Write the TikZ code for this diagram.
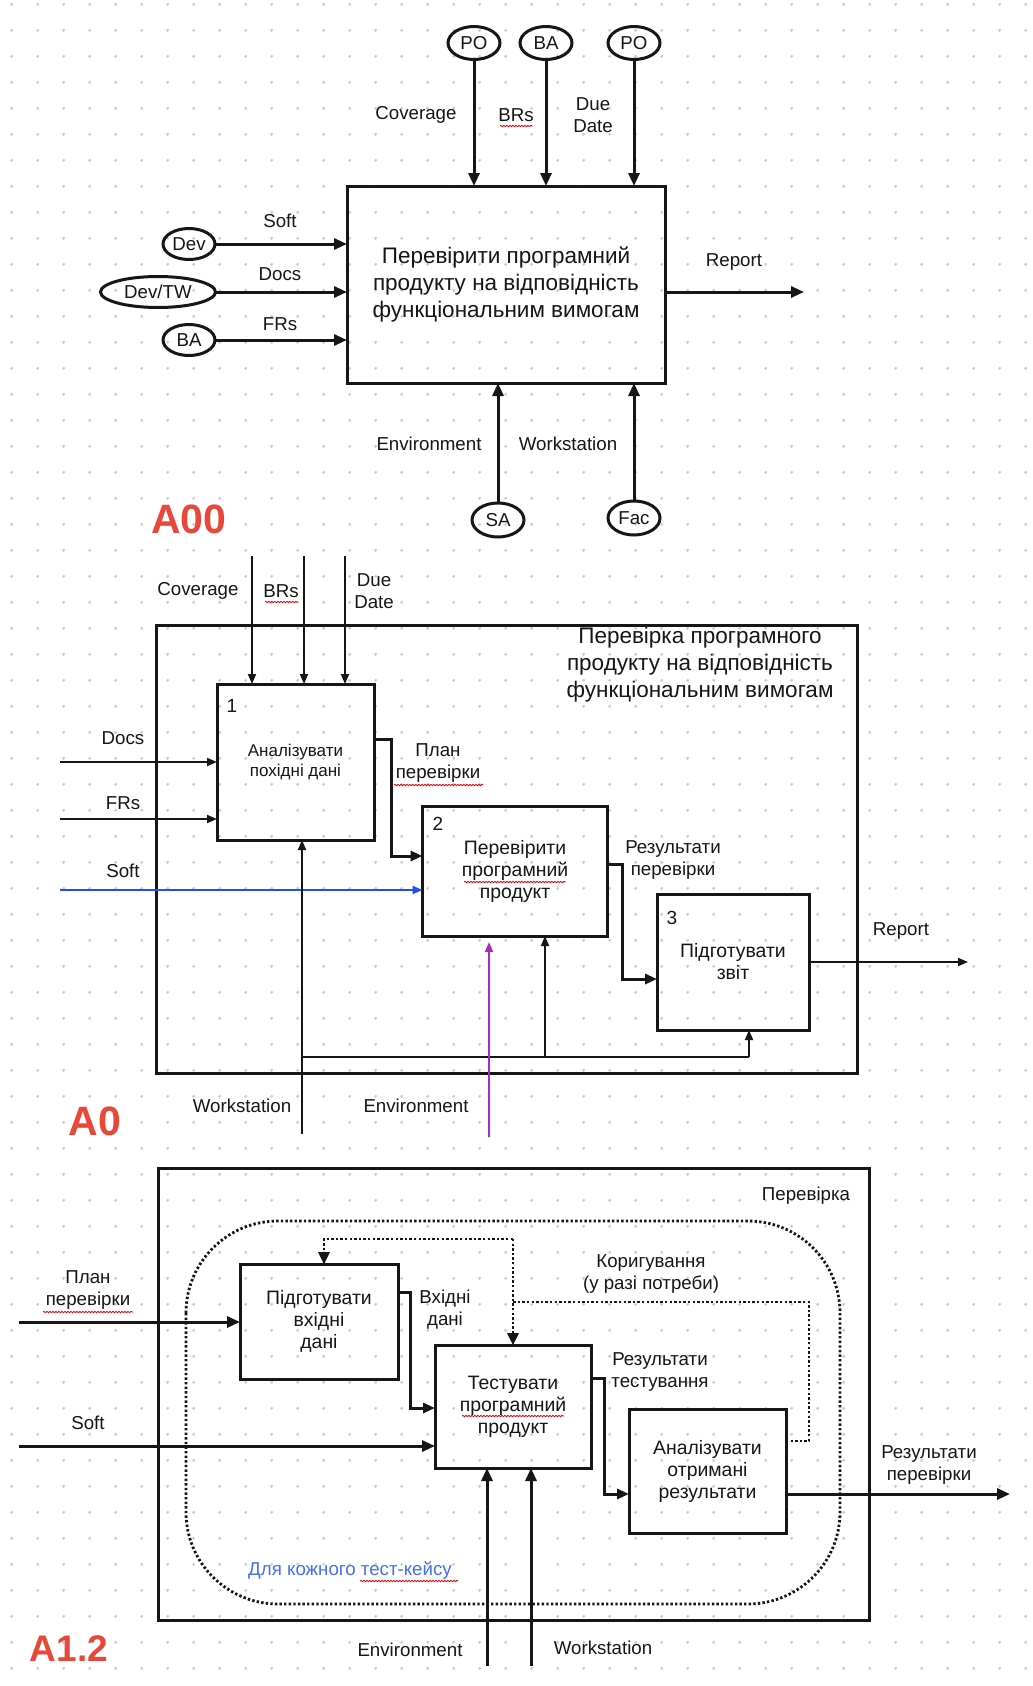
\documentclass[tikz,border=0pt]{standalone}
\usepackage{fontspec}
\setmainfont{Liberation Sans}
\usetikzlibrary{arrows.meta,shapes.geometric,calc,decorations.pathmorphing}

\definecolor{griddot}{RGB}{206,206,206}
\definecolor{tagred}{RGB}{232,72,58}
\definecolor{softblue}{RGB}{35,75,250}
\definecolor{envpurple}{RGB}{165,45,190}
\definecolor{noteblue}{RGB}{70,110,240}
\definecolor{ink}{RGB}{22,22,22}

\newcommand{\fsz}[2]{\fontsize{#1}{#2}\selectfont}

\begin{document}
\begin{tikzpicture}[x=1pt,y=-1pt,
  every node/.style={text=ink, inner sep=0pt, outer sep=0pt},
  lbl/.style={font=\fsz{18.7}{22}, align=center},
  tag/.style={font=\fsz{41}{44}\bfseries, text=tagred},
  fnbox/.style={draw=ink, line width=3, rectangle, align=center},
  frame/.style={draw=ink, line width=3, rectangle},
  actor/.style={draw=ink, line width=3, ellipse, font=\fsz{18.7}{22}, minimum height=33, minimum width=52},
  bigarr/.style={draw=ink, line width=3, -{Triangle[length=13pt,width=11pt]}},
  thinarr/.style={draw=ink, line width=1.8, -{Triangle[length=10pt,width=8pt]}},
  elbow/.style={draw=ink, line width=3, -{Triangle[length=12pt,width=10pt]}},
  dotline/.style={draw=ink, line width=2.8, dash pattern=on 2.4pt off 2.2pt},
  squig/.style={draw=red!85!black, line width=0.8, decorate, decoration={snake, amplitude=0.7pt, segment length=3pt}}
]

% page and dotted grid
\fill[white] (0,0) rectangle (1033,1686);
\useasboundingbox (0,0) rectangle (1033,1686);
\foreach \i in {0,...,39}{
  \foreach \j in {0,...,64}{
    \fill[griddot] ({11.7+26*\i},{4.3+26*\j}) circle (1.7);
  }
}

%% ---------------- A00 : context diagram ----------------
\node[fnbox, minimum width=318, minimum height=197, font=\fsz{22.5}{27}] (top) at (506,284.5)
  {Перевірити програмний\\продукту на відповідність\\функціональним вимогам};

\node[actor] (po1) at (474,43) {PO};
\node[actor] (ba1) at (546,43) {BA};
\node[actor] (po2) at (634,43) {PO};
\draw[bigarr] (po1.south) -- (po1.south |- top.north);
\draw[bigarr] (ba1.south) -- (ba1.south |- top.north);
\draw[bigarr] (po2.south) -- (po2.south |- top.north);
\node[lbl] (tcov) at (416,115) {Coverage};
\node[lbl] (tbrs) at (516,115) {BRs};
\node[lbl] (tdue) at (593,115) {Due\\Date};

\node[actor, minimum height=31] (dev) at (189,244) {Dev};
\node[actor, minimum height=31, minimum width=115] (devtw) at (158,292) {Dev/TW};
\node[actor, minimum height=31] (ba2) at (189,340) {BA};
\draw[bigarr] (dev.east) -- (dev.east -| top.west);
\draw[bigarr] (devtw.east) -- (devtw.east -| top.west);
\draw[bigarr] (ba2.east) -- (ba2.east -| top.west);
\node[lbl] (tsoft) at (280,221) {Soft};
\node[lbl] (tdocs) at (280,274) {Docs};
\node[lbl] (tfrs) at (280,324) {FRs};

\coordinate (trep) at (804,292);
\draw[bigarr] (top.east |- trep) -- (trep);
\node[lbl] (treport) at (734,262) {Report};

\node[actor, minimum height=34] (sa) at (498,520) {SA};
\node[actor, minimum height=34] (fac) at (634,518) {Fac};
\draw[bigarr] (sa.north) -- (sa.north |- top.south);
\draw[bigarr] (fac.north) -- (fac.north |- top.south);
\node[lbl] (tenv) at (429,444) {Environment};
\node[lbl] (tws) at (568,444) {Workstation};

\node[tag] (a00) at (189,519) {A00};

%% ---------------- A0 : decomposition ----------------
\node[frame, minimum width=701, minimum height=448] (a0f) at (506.5,849) {};
\node[font=\fsz{22.5}{27}, align=center] (a0title) at (700,665)
  {Перевірка програмного\\продукту на відповідність\\функціональним вимогам};

\node[fnbox, minimum width=157, minimum height=156, font=\fsz{17}{20}] (b1) at (295.5,762)
  {Аналізувати\\похідні дані};
\node[fnbox, minimum width=185, minimum height=130, font=\fsz{19.4}{22}] (b2) at (515,871)
  {Перевірити\\програмний\\продукт};
\node[fnbox, minimum width=152, minimum height=136, font=\fsz{19.4}{22}] (b3) at (733,962)
  {Підготувати\\звіт};
\node[font=\fsz{19}{22}] (n1) at (232,706) {1};
\node[font=\fsz{19}{22}] (n2) at (438,824) {2};
\node[font=\fsz{19}{22}] (n3) at (672,918) {3};

\coordinate (c1) at (252,556);
\coordinate (c2) at (304,556);
\coordinate (c3) at (345,556);
\draw[thinarr] (c1) -- (c1 |- b1.north);
\draw[thinarr] (c2) -- (c2 |- b1.north);
\draw[thinarr] (c3) -- (c3 |- b1.north);
\node[lbl] (acov) at (198,591) {Coverage};
\node[lbl] (abrs) at (281,591) {BRs};
\node[lbl] (adue) at (374,591) {Due\\Date};

\coordinate (idocs) at (60,762);
\coordinate (ifrs) at (60,819);
\coordinate (isoft) at (60,890);
\draw[thinarr] (idocs) -- (idocs -| b1.west);
\draw[thinarr] (ifrs) -- (ifrs -| b1.west);
\draw[thinarr, draw=softblue, -{Triangle[length=10pt,width=8pt,fill=softblue]}] (isoft) -- (isoft -| b2.west);
\node[lbl] (adocs) at (123,738) {Docs};
\node[lbl] (afrs) at (123,803) {FRs};
\node[lbl] (asoft) at (123,871) {Soft};

\coordinate (plA) at (391,739);
\coordinate (plB) at (391,856);
\draw[elbow] (b1.east |- plA) -- (plA) -- (plB) -- (plB -| b2.west);
\node[lbl] (aplan) at (438,763) {План\\перевірки};

\coordinate (rsA) at (622,864);
\coordinate (rsB) at (622,979);
\draw[elbow] (b2.east |- rsA) -- (rsA) -- (rsB) -- (rsB -| b3.west);
\node[lbl] (ares) at (673,860) {Результати\\перевірки};

\coordinate (arep) at (968,962);
\draw[thinarr] (b3.east |- arep) -- (arep);
\node[lbl] (areport) at (901,931) {Report};

\coordinate (ws0) at (302,1134);
\coordinate (wsL) at (302,1057);
\coordinate (wsM) at (545,1057);
\coordinate (wsR) at (749,1057);
\draw[thinarr] (ws0) -- (ws0 |- b1.south);
\draw[draw=ink, line width=1.8] (wsL) -- (wsR);
\draw[thinarr] (wsM) -- (wsM |- b2.south);
\draw[thinarr] (wsR) -- (wsR |- b3.south);
\node[lbl] (aws) at (242,1106) {Workstation};

\coordinate (env0) at (489,1137);
\coordinate (env1) at (489,942);
\draw[draw=envpurple, line width=1.8, -{Triangle[length=10pt,width=8pt,fill=envpurple]}] (env0) -- (env1);
\node[lbl] (aenv) at (416,1106) {Environment};

\node[tag] (a0) at (95,1121) {A0};

%% ---------------- A1.2 : test loop ----------------
\node[frame, minimum width=711, minimum height=452] (a12f) at (513.5,1394) {};
\node[lbl] (ttl) at (806,1196) {Перевірка};
\draw[dotline, rounded corners=92] (186,1221) rectangle (840,1604);

\node[fnbox, minimum width=158, minimum height=115, font=\fsz{19.4}{22}] (bA) at (319,1321.5)
  {Підготувати\\вхідні\\дані};
\node[fnbox, minimum width=156, minimum height=123, font=\fsz{19.4}{22}] (bB) at (513,1406.5)
  {Тестувати\\програмний\\продукт};
\node[fnbox, minimum width=157, minimum height=124, font=\fsz{19.4}{22}] (bC) at (707.5,1471)
  {Аналізувати\\отримані\\результати};

\coordinate (iplan) at (19,1322);
\coordinate (isoft2) at (19,1446);
\draw[bigarr] (iplan) -- (iplan -| bA.west);
\draw[bigarr] (isoft2) -- (isoft2 -| bB.west);
\node[lbl] (bplan) at (88,1290) {План\\перевірки};
\node[lbl] (bsoft) at (88,1423) {Soft};

\coordinate (vdA) at (410,1292);
\coordinate (vdB) at (410,1408);
\draw[elbow] (bA.east |- vdA) -- (vdA) -- (vdB) -- (vdB -| bB.west);
\node[lbl] (bvd) at (445,1310) {Вхідні\\дані};

\coordinate (rtA) at (604,1378);
\coordinate (rtB) at (604,1494);
\draw[elbow] (bB.east |- rtA) -- (rtA) -- (rtB) -- (rtB -| bC.west);
\node[lbl] (brt) at (660,1372) {Результати\\тестування};

\coordinate (rvo) at (1010,1494);
\draw[bigarr] (bC.east |- rvo) -- (rvo);
\node[lbl] (brv) at (929,1465) {Результати\\перевірки};

\coordinate (env2) at (487,1666);
\coordinate (ws2) at (531,1666);
\draw[bigarr] (env2) -- (env2 |- bB.south);
\draw[bigarr] (ws2) -- (ws2 |- bB.south);
\node[lbl] (benv) at (410,1650) {Environment};
\node[lbl] (bws) at (603,1648) {Workstation};

% correction feedback loop (dotted)
\coordinate (fbA) at (809,1441);
\coordinate (fbB) at (809,1302);
\coordinate (fbC) at (513,1302);
\coordinate (fbT) at (513,1239);
\coordinate (fbL) at (324,1239);
\draw[dotline] (bC.east |- fbA) -- (fbA) -- (fbB) -- (fbC);
\draw[dotline] (fbT) -- (fbT |- bB.north);
\draw[dotline] (fbT) -- (fbL) -- (fbL |- bA.north);
\fill[ink] (bB.north -| fbT) -- ++(-6,-12) -- ++(12,0) -- cycle;
\fill[ink] (bA.north -| fbL) -- ++(-6,-12) -- ++(12,0) -- cycle;
\node[lbl] (bcor) at (651,1274) {Коригування\\(у разі потреби)};

\node[lbl, text=noteblue] (bnote) at (350,1570) {Для кожного тест-кейсу};

\node[tag, font=\fsz{37}{40}\bfseries] (a12) at (69,1649) {A1.2};

% spell-checker underlines
\draw[squig] (500,126) -- (533,126);
\draw[squig] (265,602) -- (298,602);
\draw[squig] (394,785) -- (483,785);
\draw[squig] (464,882) -- (566,882);
\draw[squig] (43,1312) -- (133,1312);
\draw[squig] (462,1416) -- (564,1416);
\draw[squig] (360,1581) -- (458,1581);

\end{tikzpicture}
\end{document}
